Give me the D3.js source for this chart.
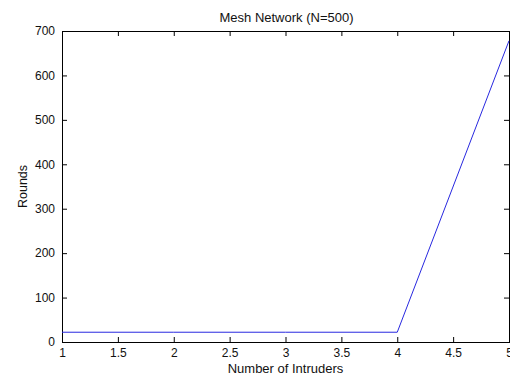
<!DOCTYPE html>
<html>
<head>
<meta charset="utf-8">
<script src="https://cdn.jsdelivr.net/npm/d3@7"></script>
<style>
  html, body { margin: 0; padding: 0; background: #fff; }
  svg { display: block; }
  text { font-family: "Liberation Sans", Arial, sans-serif; fill: #111; }
</style>
</head>
<body>
<svg id="chart" width="510" height="377"></svg>
<script>
// Rounds needed as the number of intruders grows
const intruders = [1, 2, 3, 4, 5];
const rounds = [22, 22, 22, 22, 678];
const xTicks = [1, 1.5, 2, 2.5, 3, 3.5, 4, 4.5, 5];
const yTicks = [0, 100, 200, 300, 400, 500, 600, 700];

const svg = d3.select("#chart");
const plotL = 62, plotR = 509, plotT = 31, plotB = 342;

const x = d3.scaleLinear().domain([1, 5]).range([plotL, plotR]);
const y = d3.scaleLinear().domain([0, 700]).range([plotB, plotT]);

const tickLen = 5;
const fmt = d => String(d);

// bottom axis (ticks point inward)
svg.append("g")
  .attr("transform", `translate(0,${plotB})`)
  .call(d3.axisBottom(x).tickValues(xTicks).tickFormat(fmt).tickSizeInner(-tickLen).tickSizeOuter(0).tickPadding(6))
  .call(g => g.select(".domain").remove());
// top axis
svg.append("g")
  .attr("transform", `translate(0,${plotT})`)
  .call(d3.axisTop(x).tickValues(xTicks).tickFormat("").tickSizeInner(-tickLen).tickSizeOuter(0))
  .call(g => g.select(".domain").remove());
// left axis
svg.append("g")
  .attr("transform", `translate(${plotL},0)`)
  .call(d3.axisLeft(y).tickValues(yTicks).tickFormat(fmt).tickSizeInner(-tickLen).tickSizeOuter(0).tickPadding(7))
  .call(g => g.select(".domain").remove());
// right axis
svg.append("g")
  .attr("transform", `translate(${plotR},0)`)
  .call(d3.axisRight(y).tickValues(yTicks).tickFormat("").tickSizeInner(-tickLen).tickSizeOuter(0))
  .call(g => g.select(".domain").remove());

svg.selectAll(".tick line").attr("stroke", "#000");
svg.selectAll(".tick text").attr("font-size", 12).attr("fill", "#111");

// axes box
svg.append("rect")
  .attr("x", plotL + 0.5).attr("y", plotT + 0.5)
  .attr("width", plotR - plotL).attr("height", plotB - plotT)
  .attr("fill", "none").attr("stroke", "#000").attr("stroke-width", 1);

// data line
svg.append("path")
  .datum(intruders.map((d, i) => [d, rounds[i]]))
  .attr("fill", "none")
  .attr("stroke", "#2828e0")
  .attr("stroke-width", 1)
  .attr("d", d3.line().x(d => x(d[0])).y(d => y(d[1])));

// labels
svg.append("text")
  .attr("x", (plotL + plotR) / 2 + 1).attr("y", 22)
  .attr("text-anchor", "middle").attr("font-size", 13)
  .text("Mesh Network (N=500)");
svg.append("text")
  .attr("x", (plotL + plotR) / 2).attr("y", 373)
  .attr("text-anchor", "middle").attr("font-size", 13)
  .text("Number of Intruders");
svg.append("text")
  .attr("transform", `translate(27,${(plotT + plotB) / 2}) rotate(-90)`)
  .attr("text-anchor", "middle").attr("font-size", 12.5)
  .text("Rounds");
</script>
</body>
</html>
